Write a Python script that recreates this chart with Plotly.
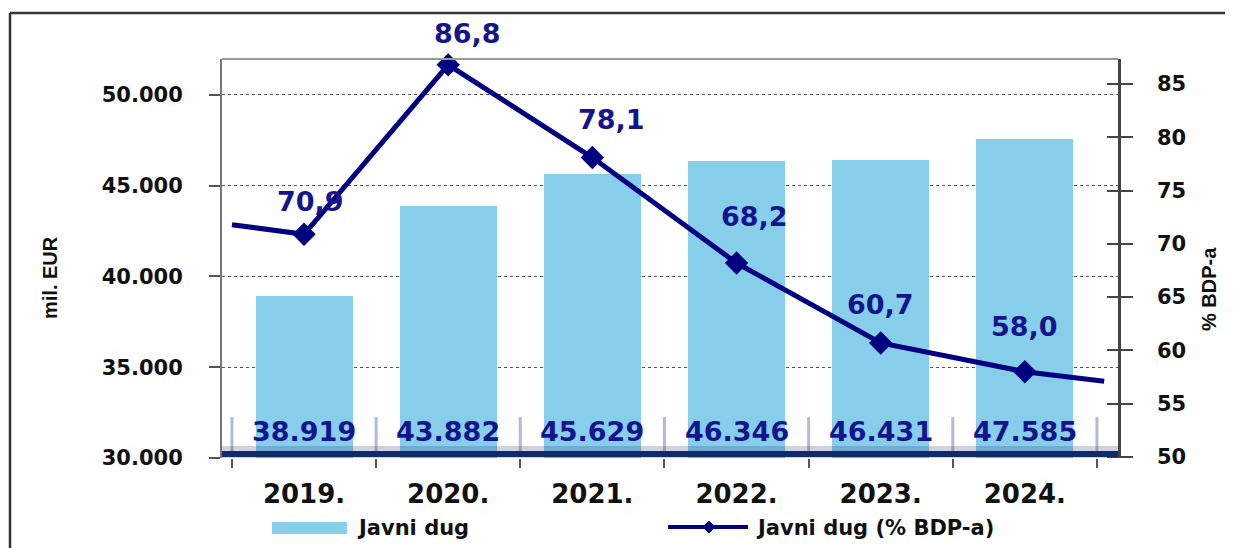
import plotly.graph_objects as go

# ---------------- data ----------------
years = ["2019.", "2020.", "2021.", "2022.", "2023.", "2024."]
debt_mil_eur = [38919, 43882, 45629, 46346, 46431, 47585]
debt_pct_gdp = [70.9, 86.8, 78.1, 68.2, 60.7, 58.0]
# the % line runs on past the first and last year to the edges of the chart
pct_lead_in = 71.8
pct_lead_out = 57.1

left_ticks = [30000, 35000, 40000, 45000, 50000]
right_ticks = [50, 55, 60, 65, 70, 75, 80, 85]
bar_name = "Javni dug"
line_name = "Javni dug (% BDP-a)"
left_title = "mil. EUR"
right_title = "% BDP-a"

# ---------------- styles ----------------
PAGE_OFF = 8                      # browser body margin
W, H = 1233 - PAGE_OFF, 548 - PAGE_OFF
REF_L, REF_R, REF_T, REF_B = 222, 1118, 59, 458   # plot area in window pixels
ML, MT = REF_L - PAGE_OFF, REF_T - PAGE_OFF
MR = W - (REF_R - PAGE_OFF)
MB = H - (REF_B - PAGE_OFF)
PW, PH = REF_R - REF_L, REF_B - REF_T
BAR_C = "#87CEEB"
NAVY = "#000080"
LBL_C = "#14148c"
FONT = "DejaVu Sans"
line_label_shift = [(6, 33), (19, 31), (19, 38), (18, 47), (0, 38), (0, 45)]


def px(xp):
    return (xp - REF_L) / PW


def py(yp):
    return (REF_B - yp) / PH


n = len(years)
xpos = list(range(n))
bounds = [i - 0.5 for i in range(n + 1)]
xr = [-0.569, 5.646]

fig = go.Figure()
fig.add_trace(go.Bar(x=xpos, y=debt_mil_eur, width=0.673, marker=dict(color=BAR_C, line=dict(width=0)),
                     name=bar_name, showlegend=False))
line_x = [bounds[0]] + xpos + [xpos[-1] + 0.55]
line_y = [pct_lead_in] + debt_pct_gdp + [pct_lead_out]
msize = [0] + [18] * n + [0]
fig.add_trace(go.Scatter(x=line_x, y=line_y, yaxis="y2", mode="lines+markers",
                         line=dict(color=NAVY, width=5),
                         marker=dict(symbol="diamond", size=msize, color=NAVY, opacity=1,
                                     line=dict(width=0, color=NAVY)),
                         name=line_name, showlegend=False, cliponaxis=False))
# helper trace so the overlay axes (boundary ticks / cross ticks) are drawn
fig.add_trace(go.Scatter(x=[bounds[0], bounds[-1]], y=[right_ticks[0], right_ticks[-1]], xaxis="x2", yaxis="y3",
                         mode="markers", marker=dict(size=0, opacity=0), showlegend=False, hoverinfo="skip"))

annotations = []
# bar value labels near the base
for i, v in enumerate(debt_mil_eur):
    annotations.append(dict(x=xpos[i], y=left_ticks[0], xref="x", yref="y", yanchor="middle",
                            yshift=27, showarrow=False, text=f"{v:,}".replace(",", "."),
                            font=dict(family=FONT, size=27, color=LBL_C, weight="bold")))
# line value labels
for i, v in enumerate(debt_pct_gdp):
    dx, dy = line_label_shift[i]
    annotations.append(dict(x=xpos[i], y=v, xref="x", yref="y2", yanchor="middle",
                            xshift=dx, yshift=dy, showarrow=False,
                            text=f"{v:.1f}".replace(".", ","),
                            font=dict(family=FONT, size=27, color=LBL_C, weight="bold")))
# axis titles
annotations.append(dict(x=px(50), y=py(278), xref="paper", yref="paper", xanchor="center", yanchor="middle",
                        textangle=-90, showarrow=False, text=left_title,
                        font=dict(family="Liberation Sans", size=20, color="#111", weight="bold")))
annotations.append(dict(x=px(1209), y=py(289), xref="paper", yref="paper", xanchor="center", yanchor="middle",
                        textangle=-90, showarrow=False, text=right_title,
                        font=dict(family="Liberation Sans", size=20, color="#111", weight="bold")))
# legend texts
annotations.append(dict(x=px(355), y=py(528), xref="paper", yref="paper", xanchor="left", yanchor="middle",
                        showarrow=False, text=bar_name,
                        font=dict(family=FONT, size=21, color="#111", weight="bold")))
annotations.append(dict(x=px(754), y=py(528), xref="paper", yref="paper", xanchor="left", yanchor="middle",
                        showarrow=False, text=line_name,
                        font=dict(family=FONT, size=21, color="#111", weight="bold")))

shapes = []
# outer frame
shapes.append(dict(type="line", xref="paper", yref="paper", x0=px(10), x1=px(10), y0=py(13), y1=py(600),
                   line=dict(color="#333", width=2.5)))
shapes.append(dict(type="line", xref="paper", yref="paper", x0=px(10), x1=px(1231), y0=py(13), y1=py(13),
                   line=dict(color="#333", width=2.5)))
shapes.append(dict(type="line", xref="paper", yref="paper", x0=px(1228), x1=px(1228), y0=py(13), y1=py(600),
                   line=dict(color="#c8c8c8", width=1.5)))
# plot top border
shapes.append(dict(type="line", xref="paper", yref="paper", x0=0, x1=1, y0=1, y1=1,
                   line=dict(color="#999", width=2)))
# separators between bar labels
for b in bounds:
    shapes.append(dict(type="line", xref="x", yref="paper", x0=b, x1=b, y0=py(456), y1=py(417),
                       line=dict(color="rgba(110,115,165,0.5)", width=3), layer="above"))
# navy base band with soft shadow
shapes.append(dict(type="line", xref="paper", yref="paper", x0=0, x1=1, y0=py(452), y1=py(452),
                   line=dict(color="rgba(40,50,120,0.22)", width=12), layer="above"))
shapes.append(dict(type="line", xref="paper", yref="paper", x0=0, x1=1, y0=py(454), y1=py(454),
                   line=dict(color="#102a6a", width=6), layer="above"))
# legend symbols
shapes.append(dict(type="rect", xref="paper", yref="paper", x0=px(272), x1=px(347), y0=py(534), y1=py(522),
                   fillcolor=BAR_C, line=dict(width=0)))
shapes.append(dict(type="line", xref="paper", yref="paper", x0=px(668), x1=px(748), y0=py(527), y1=py(527),
                   line=dict(color=NAVY, width=4)))
cx, cy, r = 709, 527, 6
shapes.append(dict(type="path", xref="paper", yref="paper",
                   path=f"M {px(cx - r)},{py(cy)} L {px(cx)},{py(cy - r)} L {px(cx + r)},{py(cy)} L {px(cx)},{py(cy + r)} Z",
                   fillcolor=NAVY, line=dict(color=NAVY, width=1)))

tick_font = dict(family=FONT, size=21, color="#111", weight="bold")

fig.update_layout(
    width=W, height=H,
    margin=dict(l=ML, r=MR, t=MT, b=MB, pad=0),
    paper_bgcolor="white", plot_bgcolor="white",
    bargap=0,
    showlegend=False,
    annotations=annotations,
    shapes=shapes,
    xaxis=dict(range=xr, tickvals=xpos, ticktext=years, ticks="", showgrid=False, zeroline=False,
               showline=False, tickfont=dict(family=FONT, size=26, color="#111", weight="bold"),
               ticklabelstandoff=18),
    xaxis2=dict(range=xr, overlaying="x", anchor="y", side="bottom", tickvals=bounds, ticktext=[""] * len(bounds),
                ticks="outside", ticklen=9, tickwidth=2, tickcolor="#555", showgrid=False, zeroline=False,
                showline=False, showticklabels=False),
    yaxis=dict(range=[30000, 51980], tickvals=left_ticks,
               ticktext=[f"{v:,}".replace(",", ".") for v in left_ticks],
               ticks="outside", ticklen=11, tickwidth=2, tickcolor="#555",
               showline=True, linecolor="#777", linewidth=2,
               showgrid=True, gridcolor="#555", gridwidth=1, griddash="dot", zeroline=False,
               tickfont=tick_font, ticklabelstandoff=22),
    yaxis2=dict(range=[49.9, 87.35], overlaying="y", side="right", tickvals=right_ticks,
                ticks="outside", ticklen=12, tickwidth=2, tickcolor="#444",
                showline=True, linecolor="#444", linewidth=2.5, showgrid=False, zeroline=False,
                tickfont=tick_font, ticklabelstandoff=20),
    yaxis3=dict(range=[49.9, 87.35], overlaying="y", side="right", anchor="x", tickvals=right_ticks,
                ticks="inside", ticklen=11, tickwidth=2, tickcolor="#444", showticklabels=False,
                showline=False, showgrid=False, zeroline=False),
)

fig.write_html("out.html")
